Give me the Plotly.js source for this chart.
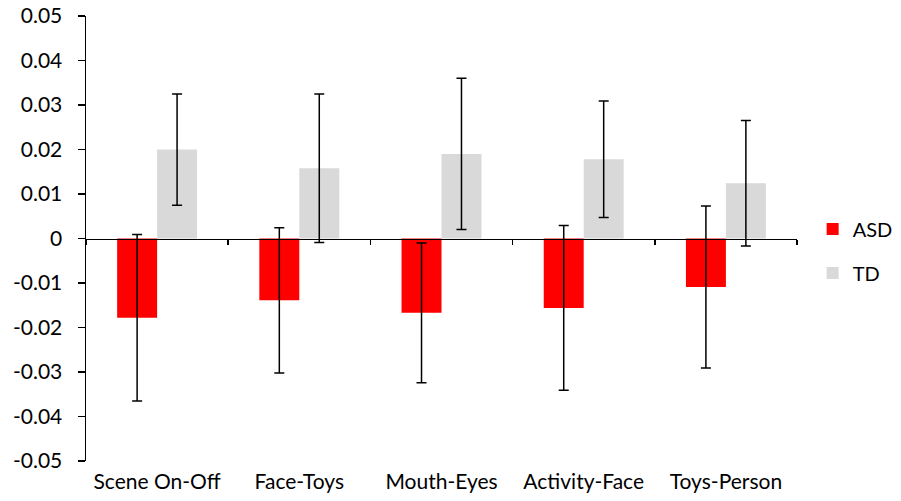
<!DOCTYPE html>
<html>
<head>
<meta charset="utf-8">
<script src="https://cdn.plot.ly/plotly-3.0.1.min.js"></script>
<style>html,body{margin:0;padding:0;background:#fff;}#chart{width:901px;height:501px;}</style>
</head>
<body>
<div id="chart"></div>
<script>
const categories = ["Scene On-Off", "Face-Toys", "Mouth-Eyes", "Activity-Face", "Toys-Person"];
const asdValues = [-0.0178, -0.0139, -0.0167, -0.0156, -0.0109];
const asdErrors = [0.0187, 0.0163, 0.0157, 0.0185, 0.0182];
const tdValues = [0.0200, 0.0158, 0.0190, 0.0178, 0.0124];
const tdErrors = [0.0125, 0.0167, 0.0170, 0.0131, 0.0141];
const yTickVals = [-0.05, -0.04, -0.03, -0.02, -0.01, 0, 0.01, 0.02, 0.03, 0.04, 0.05];
const yTickText = ["-0.05", "-0.04", "-0.03", "-0.02", "-0.01", "0", "0.01", "0.02", "0.03", "0.04", "0.05"];

const FONT = "Lato, 'Open Sans', sans-serif";
const FS = 21;
const BW = 0.281;
const errStyle = {type: "data", visible: true, color: "#000", thickness: 1.5, width: 5};

const traces = [
  {type: "bar", name: "ASD", x: categories, y: asdValues, xaxis: "x", yaxis: "y",
   width: BW, offset: -BW, marker: {color: "#FF0000"},
   error_y: Object.assign({array: asdErrors}, errStyle), legendgroup: "a"},
  {type: "bar", name: "TD", x: categories, y: tdValues, xaxis: "x2", yaxis: "y",
   width: BW, offset: 0, marker: {color: "#D9D9D9"},
   error_y: Object.assign({array: tdErrors}, errStyle), legendgroup: "b"}
];

const layout = {
  width: 901, height: 501,
  margin: {l: 86, r: 104, t: 16, b: 40, autoexpand: false},
  paper_bgcolor: "#fff", plot_bgcolor: "#fff",
  font: {family: FONT, size: FS, color: "#000"},
  barmode: "overlay",
  showlegend: true,
  legend: {x: 1.022, y: 0.565, xanchor: "left", yanchor: "top", font: {size: 20}, tracegroupgap: 15, bgcolor: "rgba(0,0,0,0)"},
  xaxis: {type: "category", categoryarray: categories, categoryorder: "array",
          showline: false, ticks: "", zeroline: false, showgrid: false,
          ticklabelstandoff: 6,
          tickfont: {size: FS}, range: [-0.5, categories.length - 0.5]},
  xaxis2: {type: "category", categoryarray: categories, categoryorder: "array",
           overlaying: "x", anchor: "free", position: 0.5, side: "bottom",
           range: [-0.5, categories.length - 0.5], tickson: "boundaries",
           showline: true, linecolor: "#000", linewidth: 1.5,
           ticks: "outside", ticklen: 5, tickwidth: 1.5, tickcolor: "#000",
           showticklabels: false, showgrid: false, zeroline: false},
  yaxis: {range: [-0.05, 0.05], tickmode: "array", tickvals: yTickVals, ticktext: yTickText,
          showline: true, linecolor: "#000", linewidth: 1.5,
          ticks: "outside", ticklen: 7, tickwidth: 1.5, tickcolor: "#000",
          ticklabelstandoff: 11,
          showgrid: false, zeroline: false, tickfont: {size: FS}}
};

Plotly.newPlot("chart", traces, layout, {displayModeBar: false, staticPlot: true});
</script>
</body>
</html>
